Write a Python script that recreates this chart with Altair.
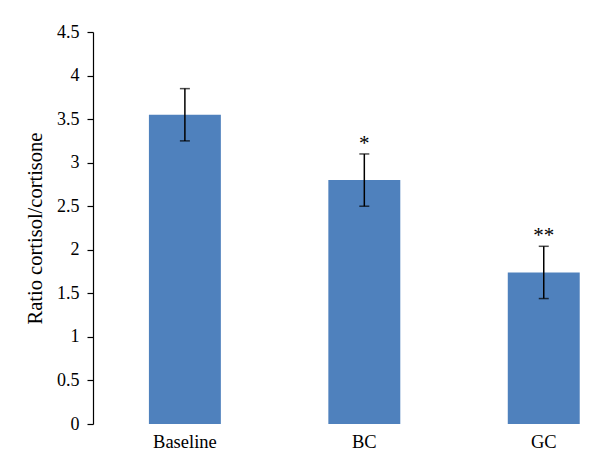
import altair as alt
import pandas as pd

categories = ["Baseline", "BC", "GC"]
means = [3.55, 2.80, 1.74]
errors = [0.30, 0.30, 0.30]
sig_marks = ["", "*", "**"]
y_ticks = [0, 0.5, 1, 1.5, 2, 2.5, 3, 3.5, 4, 4.5]

df = pd.DataFrame({"group": categories, "mean": means, "err": errors, "sig": sig_marks})
df["lo"] = df["mean"] - df["err"]
df["hi"] = df["mean"] + df["err"]

FONT = "Liberation Serif"

x_enc = alt.X(
    "group:N", sort=categories, title=None,
    scale=alt.Scale(paddingInner=0.599, paddingOuter=0.19, align=0.82),
    axis=alt.Axis(domain=False, ticks=False, labelAngle=0, labelFont=FONT,
                  labelFontSize=18.5, labelColor="black", labelPadding=8),
)
y_scale = alt.Scale(domain=[0, 4.5], nice=False)

base = alt.Chart(df)

bars = base.mark_bar(color="#4F81BD").encode(
    x=x_enc,
    y=alt.Y("mean:Q", scale=y_scale, title="Ratio cortisol/cortisone",
            axis=alt.Axis(values=y_ticks, format="~g", grid=False,
                          domainColor="black", tickColor="black", tickSize=6,
                          domainWidth=1.2, tickWidth=1.2,
                          labelFont=FONT, labelFontSize=18, labelColor="black",
                          labelPadding=8,
                          titleFont=FONT, titleFontSize=20.5, titleFontWeight="normal",
                          titleColor="black", titlePadding=11)),
)

err_rule = base.mark_rule(color="black", strokeWidth=1.5).encode(
    x=alt.X("group:N", sort=categories), y=alt.Y("lo:Q", scale=y_scale), y2="hi:Q"
)
cap_lo = base.mark_tick(color="black", thickness=1.5, size=10).encode(
    x=alt.X("group:N", sort=categories), y=alt.Y("lo:Q", scale=y_scale)
)
cap_hi = base.mark_tick(color="black", thickness=1.5, size=10).encode(
    x=alt.X("group:N", sort=categories), y=alt.Y("hi:Q", scale=y_scale)
)
stars = base.mark_text(font=FONT, fontSize=21, color="black", baseline="middle", dy=-10).encode(
    x=alt.X("group:N", sort=categories), y=alt.Y("hi:Q", scale=y_scale), text="sig:N"
)

chart = alt.layer(bars, err_rule, cap_lo, cap_hi, stars).properties(
    width=499, height=392,
    autosize=alt.AutoSizeParams(type="none"),
    padding={"left": 85, "top": 24, "right": 0, "bottom": 44},
).configure_view(stroke=None)

chart.save("out.html", embed_options={"renderer": "svg", "actions": False})
